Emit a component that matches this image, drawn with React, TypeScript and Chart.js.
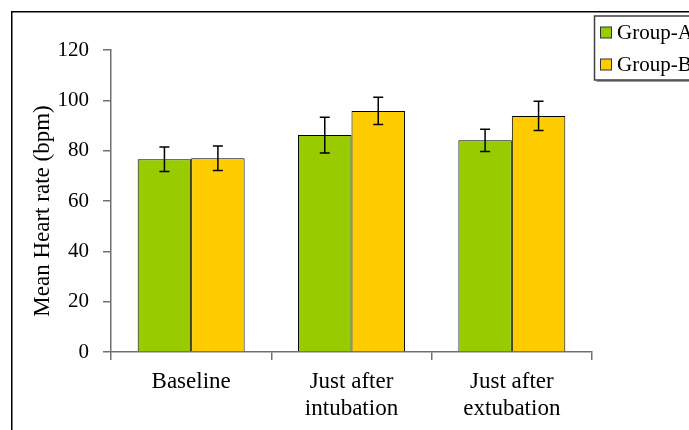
import React, { useEffect, useRef } from 'react';
import { Chart, registerables } from 'chart.js';

Chart.register(...registerables);

const categories: (string | string[])[] = ['Baseline', ['Just after', 'intubation'], ['Just after', 'extubation']];
const seriesNames = ['Group-A', 'Group-B'];
const groupA = [76.6, 86.2, 84.1];
const groupB = [77.0, 95.8, 93.8];
const errorA = [4.9, 7.1, 4.4];
const errorB = [4.9, 5.4, 5.8];
const yTitle = 'Mean Heart rate (bpm)';

const GREEN = '#99CC00';
const YELLOW = '#FFCC00';
const FONT = '"Liberation Serif", "Times New Roman", serif';

const errorBarPlugin = {
  id: 'errorBars',
  afterDatasetsDraw(chart: any) {
    const ctx = chart.ctx;
    const ys = chart.scales.y;
    [errorA, errorB].forEach((errs, di) => {
      const meta = chart.getDatasetMeta(di);
      const vals = chart.data.datasets[di].data as number[];
      meta.data.forEach((bar: any, i: number) => {
        const x = bar.x;
        const top = ys.getPixelForValue(vals[i] + errs[i]);
        const bot = ys.getPixelForValue(vals[i] - errs[i]);
        ctx.save();
        ctx.strokeStyle = '#000';
        ctx.lineWidth = 1.5;
        ctx.beginPath();
        ctx.moveTo(x, top);
        ctx.lineTo(x, bot);
        ctx.moveTo(x - 5, top);
        ctx.lineTo(x + 5, top);
        ctx.moveTo(x - 5, bot);
        ctx.lineTo(x + 5, bot);
        ctx.stroke();
        ctx.restore();
      });
    });
  },
};

const decorPlugin = {
  id: 'decor',
  afterDraw(chart: any) {
    const ctx = chart.ctx;
    const area = chart.chartArea;
    ctx.save();
    // outer frame
    ctx.strokeStyle = '#000';
    ctx.lineWidth = 1.5;
    ctx.beginPath();
    ctx.moveTo(3.75, 500);
    ctx.lineTo(3.75, 3.75);
    ctx.lineTo(1000, 3.75);
    ctx.stroke();

    // y axis title
    ctx.save();
    ctx.translate(35, (area.top + area.bottom) / 2 + 10);
    ctx.rotate(-Math.PI / 2);
    ctx.font = `23px ${FONT}`;
    ctx.fillStyle = '#000';
    ctx.textAlign = 'center';
    ctx.textBaseline = 'middle';
    ctx.fillText(yTitle, 0, 0);
    ctx.restore();

    // legend
    const lx = 586.5;
    const ly = 8;
    const lw = 200;
    const lh = 64;
    ctx.fillStyle = '#9a9a9a';
    ctx.fillRect(lx + 2, ly + 2, lw, lh);
    ctx.fillStyle = '#fff';
    ctx.fillRect(lx, ly, lw, lh);
    ctx.strokeStyle = '#404040';
    ctx.lineWidth = 1.5;
    ctx.strokeRect(lx, ly, lw, lh);
    const colors = [GREEN, YELLOW];
    seriesNames.forEach((name, i) => {
      const cy = 24.5 + i * 32;
      ctx.fillStyle = colors[i];
      ctx.fillRect(592, cy - 5.5, 11, 11);
      ctx.strokeStyle = '#333';
      ctx.lineWidth = 1;
      ctx.strokeRect(592.5, cy - 5.5, 11, 11);
      ctx.fillStyle = '#000';
      ctx.font = `21px ${FONT}`;
      ctx.textAlign = 'left';
      ctx.textBaseline = 'middle';
      ctx.fillText(name, 609, cy + 1);
    });
    ctx.restore();
  },
};

export default function App() {
  const ref = useRef<HTMLCanvasElement>(null);
  useEffect(() => {
    if (!ref.current) return;
    const chart = new Chart(ref.current, {
      type: 'bar',
      data: {
        labels: categories as any,
        datasets: [
          {
            label: seriesNames[0],
            data: groupA,
            backgroundColor: GREEN,
            borderColor: '#000',
            borderWidth: 1,
            categoryPercentage: 0.667,
            barPercentage: 1,
          },
          {
            label: seriesNames[1],
            data: groupB,
            backgroundColor: YELLOW,
            borderColor: '#000',
            borderWidth: 1,
            categoryPercentage: 0.667,
            barPercentage: 1,
          },
        ],
      },
      options: {
        responsive: false,
        animation: false,
        devicePixelRatio: 1,
        layout: { padding: { left: 0, top: 42, right: 176, bottom: 0 } },
        plugins: { legend: { display: false }, tooltip: { enabled: false } },
        scales: {
          x: {
            grid: {
              offset: true,
              drawOnChartArea: false,
              drawTicks: true,
              tickLength: 8,
              color: '#707070',
              lineWidth: 1.5,
            },
            border: { color: '#707070', width: 1.5 },
            ticks: {
              color: '#000',
              font: { family: FONT, size: 23 },
              padding: 8,
              maxRotation: 0,
              autoSkip: false,
            },
            afterFit: (s: any) => {
              s.height = 78;
            },
          },
          y: {
            min: 0,
            max: 120,
            ticks: {
              stepSize: 20,
              color: '#000',
              font: { family: FONT, size: 21 },
              padding: 14,
            },
            grid: {
              drawOnChartArea: false,
              drawTicks: true,
              tickLength: 8,
              color: '#707070',
              lineWidth: 1.5,
            },
            border: { color: '#707070', width: 1.5 },
            afterFit: (s: any) => {
              s.width = 103;
            },
          },
        },
      },
      plugins: [errorBarPlugin, decorPlugin],
    });
    return () => chart.destroy();
  }, []);
  return (
    <div style={{ position: 'fixed', left: 8, top: 8, width: 681, height: 422, overflow: 'hidden' }}>
      <canvas ref={ref} width={760} height={422} style={{ display: 'block' }} />
    </div>
  );
}
